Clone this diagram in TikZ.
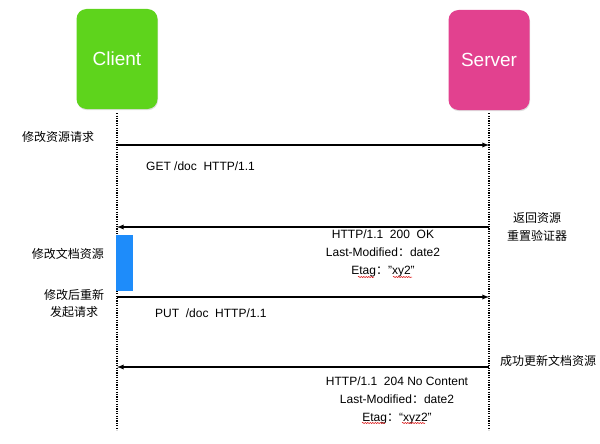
\documentclass[tikz,border=0pt]{standalone}
\usepackage{fontspec}
\setmainfont{Liberation Sans}
\newfontfamily\cjk{Noto Sans CJK SC}
\usetikzlibrary{shadows,decorations.pathmorphing}

\definecolor{clientgreen}{HTML}{5ED41C}
\definecolor{serverpink}{HTML}{E2418F}
\definecolor{busyblue}{HTML}{1E8CFA}

\tikzset{
	actor/.style={rounded corners=10pt, minimum width=81pt, minimum height=100pt,
		text=white, font=\fontsize{19}{23}\selectfont,
		drop shadow={opacity=.25, shadow xshift=.6pt, shadow yshift=-1.2pt}},
	lifeline/.style={line width=1.2pt, dash pattern=on 1.2pt off 1.2pt},
	msg/.style={line width=1.3pt, -latex},
	note/.style={inner sep=0pt, align=center, font=\cjk\fontsize{12}{17.5}\selectfont},
	txt/.style={inner sep=0pt, align=center, font=\fontsize{12}{18}\selectfont},
	squig/.style={red!85!black, line width=.5pt, decorate,
		decoration={snake, amplitude=.6pt, segment length=2.5pt}}
}

\begin{document}
\begin{tikzpicture}[x=1pt, y=-1pt]
		\useasboundingbox (0,0) rectangle (600,444);
		
		% actors
		\node[actor, fill=clientgreen] (client) at (117,59) {Client};
		\node[actor, fill=serverpink] (server) at (489,60) {Server};
		
		% lifelines
		\draw[lifeline] ([yshift=-4pt]client.south) -- (client.south |- 0,430);
		\draw[lifeline] ([yshift=-3pt]server.south) -- (server.south |- 0,430);
		
		\foreach \i/\y in {1/145,2/227,3/297,4/367}{
			\coordinate (c\i) at (client.south |- 0,\y);
			\coordinate (s\i) at (server.south |- 0,\y);
		}
		
		% editing the document
		\fill[busyblue] (116,235) rectangle (133,291);
		
		% messages
		\draw[msg] (c1) -- (s1);
		\draw[msg] (s2) -- (c2);
		\draw[msg] (c3) -- (s3);
		\draw[msg] (s4) -- (c4);
		
		% labels
		\node[note, anchor=west] (ask) at (22,137) {修改资源请求};
		\node[txt, anchor=west] (get) at (146,166) {GET /doc\ \ HTTP/1.1};
		\node[note] (back) at (537,227) {返回资源\\重置验证器};
		\node[txt] (ok) at (383,253) {HTTP/1.1\ \ 200\ \ OK\\Last-Modified{\cjk ：}date2\\Etag{\cjk ：}”xy2”};
		\node[note, anchor=east] (edit) at (104,254) {修改文档资源};
		\node[note] (resend) at (74,303.5) {修改后重新\\发起请求};
		\node[txt, anchor=west] (put) at (155,313) {PUT\ \ /doc\ \ HTTP/1.1};
		\node[note, anchor=west] (done) at (500,361) {成功更新文档资源};
		\node[txt] (nocontent) at (397,400) {HTTP/1.1\ \ 204 No Content\\Last-Modified{\cjk ：}date2\\Etag{\cjk ：}“xyz2”};
		
		% spell check marks
		\draw[squig] (358,277) -- (374,277);
		\draw[squig] (393,277) -- (412,277);
		\draw[squig] (362,423) -- (385,423);
		\draw[squig] (402,423) -- (425,423);
	\end{tikzpicture}
\end{document}
